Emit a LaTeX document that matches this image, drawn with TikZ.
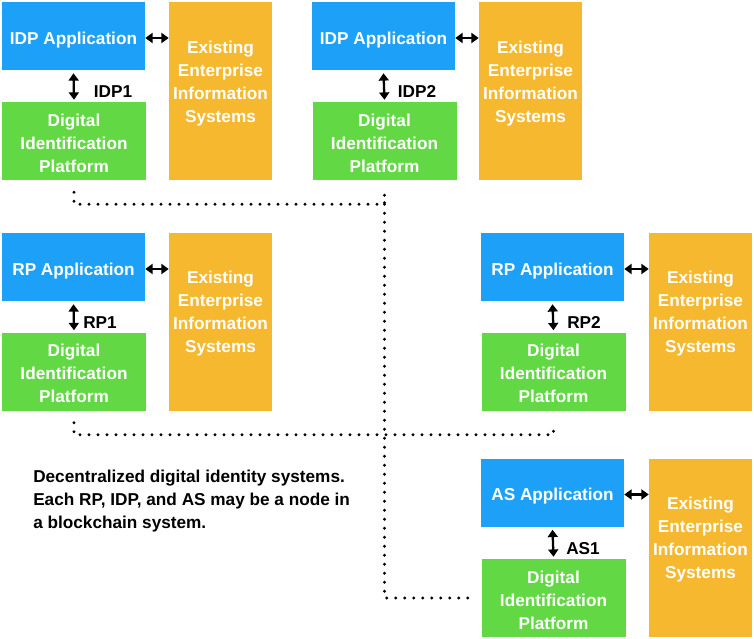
\documentclass[tikz,border=0pt]{standalone}
\usepackage{fontspec}
\setmainfont{Liberation Sans}
\usetikzlibrary{arrows.meta,calc}
\definecolor{appblue}{HTML}{1DA1F8}
\definecolor{platgreen}{HTML}{63D845}
\definecolor{eesorange}{HTML}{F5B82E}
\begin{document}
\begin{tikzpicture}[x=0.75pt,y=-0.75pt,
  txt/.style={font=\fontsize{12.9}{17.25}\selectfont\bfseries},
  app/.style={txt,fill=appblue,text=white,minimum width=107.25pt,minimum height=51pt,inner sep=0pt,text height=12.2pt,text depth=0pt},
  plat/.style={fill=platgreen,minimum width=108pt,minimum height=58.5pt,inner sep=0pt},
  ees/.style={fill=eesorange,minimum width=77.25pt,minimum height=133.5pt,inner sep=0pt},
  boxtxt/.style={txt,text=white,align=center,inner sep=0pt},
  lbl/.style={txt,text=black,inner sep=0pt},
  link/.style={line width=1.7pt,{Triangle[length=5.5pt,width=7.5pt]}-{Triangle[length=5.5pt,width=7.5pt]}},
  chain/.style={line width=2.3pt,line cap=round,dash pattern=on 0pt off 6.75pt}]
\useasboundingbox (0,0) rectangle (754,639);
% IDP1
\node[app] (a1) at (73.5,36) {IDP Application};
\node[plat] (p1) at (74,141) {};
\node[boxtxt] (q1) at (74,143) {Digital\\Identification\\Platform};
\node[ees] (e1) at (220.5,91) {};
\node[boxtxt] (t1) at (220.5,83.5) {Existing\\Enterprise\\Information\\Systems};
\node[lbl] (l1) at (113,91.5) {IDP1};
% IDP2
\node[app] (a2) at (383.5,36) {IDP Application};
\node[plat] (p2) at (384.5,141) {};
\node[boxtxt] (q2) at (384.5,143) {Digital\\Identification\\Platform};
\node[ees] (e2) at (530.5,91) {};
\node[boxtxt] (t2) at (530.5,83.5) {Existing\\Enterprise\\Information\\Systems};
\node[lbl] (l2) at (417,91.5) {IDP2};
% RP1
\node[app] (a3) at (73.5,267) {RP Application};
\node[plat] (p3) at (74,371.5) {};
\node[boxtxt] (q3) at (74,373.5) {Digital\\Identification\\Platform};
\node[ees] (e3) at (220.5,321.5) {};
\node[boxtxt] (t3) at (220.5,314) {Existing\\Enterprise\\Information\\Systems};
\node[lbl] (l3) at (100,322.5) {RP1};
% RP2
\node[app] (a4) at (552.5,267) {RP Application};
\node[plat] (p4) at (553.5,371.5) {};
\node[boxtxt] (q4) at (553.5,373.5) {Digital\\Identification\\Platform};
\node[ees] (e4) at (700.5,321.5) {};
\node[boxtxt] (t4) at (700.5,314) {Existing\\Enterprise\\Information\\Systems};
\node[lbl] (l4) at (584,322.5) {RP2};
% AS1
\node[app] (a5) at (552.5,492.5) {AS Application};
\node[plat] (p5) at (553.5,598) {};
\node[boxtxt] (q5) at (553.5,600) {Digital\\Identification\\Platform};
\node[ees] (e5) at (700.5,547.5) {};
\node[boxtxt] (t5) at (700.5,540) {Existing\\Enterprise\\Information\\Systems};
\node[lbl] (l5) at (583,548.5) {AS1};
% caption
\node[txt,align=left,anchor=west,inner sep=0pt] (cap) at (33,501.5) {Decentralized digital identity systems.\\Each RP, IDP, and AS may be a node in\\a blockchain system.};
% links
\foreach \i in {1,...,5}{
  \draw[link] ($(a\i.east)+(0,2)$) -- ($(a\i.east -| e\i.west)+(0,2)$);
  \draw[link] ($(a\i.south)+(0,3)$) -- ($(p\i.north)+(0,-2)$);
}
% dotted chain
\draw[chain] ($(p1.south)+(0,12)$) -- ($(p1.south)+(0,24)$) -| ($(p2.south)+(0,15)$);
\draw[chain] ($(p2.south)+(0,15)$) |- ($(p5.west)+(-9,0)$);
\draw[chain] ($(p3.south)+(0,12)$) -- ($(p3.south)+(0,24)$) -| ($(p4.south)+(0,12)$);
\end{tikzpicture}
\end{document}
